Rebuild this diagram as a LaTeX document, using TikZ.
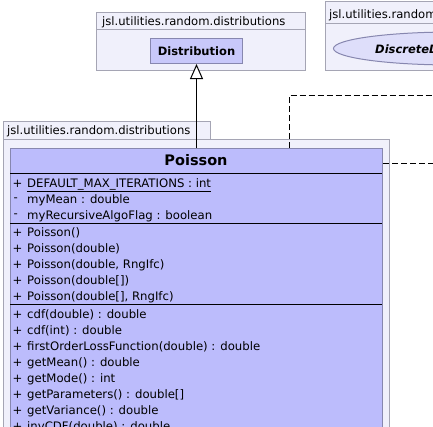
\documentclass[tikz,border=0pt]{standalone}
\usepackage{fontspec}
\setmainfont{DejaVu Sans}
\usetikzlibrary{arrows.meta,shapes.geometric}
\definecolor{pkgfill}{RGB}{240,240,251}
\definecolor{pkgline}{RGB}{165,165,180}
\definecolor{clsfill}{RGB}{188,188,252}
\definecolor{clsline}{RGB}{135,135,175}
\definecolor{difill}{RGB}{200,200,250}
\definecolor{ellfill}{RGB}{222,222,250}
\tikzset{
  pkg/.style={draw=pkgline,fill=pkgfill,line width=1pt},
  pkglabel/.style={anchor=base west,inner sep=0pt,font=\fontsize{11.6}{13}\selectfont},
  classbox/.style={draw=clsline,fill=clsfill,line width=1pt,rectangle,inner sep=0pt},
  row/.style={anchor=base west,inner sep=0pt,font=\fontsize{11.7}{13}\selectfont},
  sep/.style={draw=black,line width=1pt},
  gen/.style={draw=black,line width=1pt,-{Triangle[open,length=15pt,width=13pt,fill=white]}},
  real/.style={draw=black,line width=1pt,dash pattern=on 6pt off 3pt},
}
\begin{document}
\begin{tikzpicture}[x=1pt,y=-1pt]
\useasboundingbox (0,0) rectangle (433,426);
\clip (0,0) rectangle (433,426);
\fill[white] (0,0) rectangle (433,426);
% top middle package
\draw[pkg] (96,12) rectangle (305,70);
\draw[pkgline,line width=1pt] (96,29) -- (305,29);
\node[pkglabel] (pkgA) at (102,25) {jsl.utilities.random.distributions};
\node[classbox,fill=difill,minimum width=92pt,minimum height=25pt,anchor=north west,
      font=\bfseries\fontsize{11.5}{13}\selectfont] (distribution) at (150,38) {Distribution};
% top right package
\draw[pkg] (325,1) rectangle (460,70);
\draw[pkgline,line width=1pt] (325,23) -- (460,23);
\node[pkglabel] (pkgB) at (329,18) {jsl.utilities.random.distributions};
\node[ellipse,draw=clsline,fill=ellfill,line width=1pt,minimum width=240pt,minimum height=33pt,
      anchor=west,inner sep=0pt] (ifc) at (333,48.5) {};
\node[anchor=base west,inner sep=0pt,font=\bfseries\itshape\fontsize{11.5}{13}\selectfont] (ifcname) at (375,53) {DiscreteDistributionIfc};
% bottom package
\draw[pkg] (3,121) rectangle (210,139);
\draw[pkg] (3,139) rectangle (389,460);
\node[pkglabel] (pkgC) at (7,134) {jsl.utilities.random.distributions};
% Poisson class
\node[classbox,minimum width=372pt,minimum height=452pt,anchor=north west] (poisson) at (10,148) {};
\node[inner sep=0pt,font=\bfseries\fontsize{14.5}{16}\selectfont] (ptitle) at (196,160.5) {Poisson};
\draw[sep] (10,173) -- (382,173);
\draw[sep] (10,223) -- (382,223);
\draw[sep] (10,304) -- (382,304);
% attributes
\node[row] (v1) at (12.5,187) {+};
\node[row] (a1) at (27,187) {\underline{DEFAULT\_MAX\_ITERATIONS : int}};
\node[row] (v2) at (13.5,201) {-};
\node[row] (a2) at (27,203) {myMean : double};
\node[row] (v3) at (13.5,217) {-};
\node[row] (a3) at (27,219) {myRecursiveAlgoFlag : boolean};
% constructors
\foreach \t [count=\i] in {Poisson(),Poisson(double),{Poisson(double, RngIfc)},Poisson(double[]),{Poisson(double[], RngIfc)}}{
  \node[row] (cv\i) at (12.5,220+16*\i) {+};
  \node[row] (c\i) at (27,220+16*\i) {\t};
}
% methods
\foreach \t [count=\i] in {cdf(double) : double,cdf(int) : double,firstOrderLossFunction(double) : double,getMean() : double,getMode() : int,getParameters() : double[],getVariance() : double,invCDF(double) : double}{
  \node[row] (mv\i) at (12.5,302+16*\i) {+};
  \node[row] (m\i) at (27,302+16*\i) {\t};
}
% connectors
\draw[gen] (distribution.south |- poisson.north) -- (distribution.south);
\coordinate (ifcA) at (445,95);
\coordinate (ifcB) at (445,163);
\draw[real] ([xshift=93pt]poisson.north) |- (ifcA);
\draw[real] ([yshift=-15pt]poisson.north east) -- (ifcB);
\end{tikzpicture}
\end{document}
